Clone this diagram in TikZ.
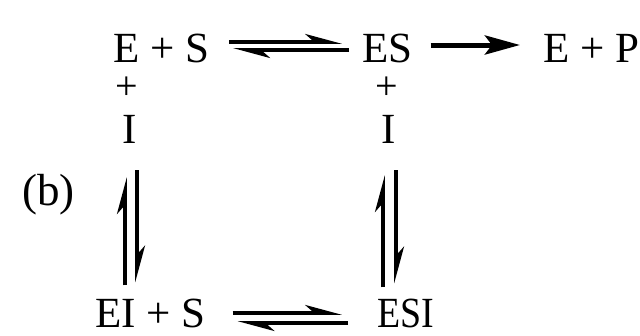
\documentclass[tikz,border=0pt]{standalone}
\usepackage{fontspec}
\setmainfont{Liberation Serif}
\usetikzlibrary{arrows.meta}
\begin{document}
\begin{tikzpicture}[x=1pt, y=-1pt,
    species/.style={inner sep=0pt, anchor=base west, font=\fontsize{43}{50}\selectfont},
    harp/.style={line width=3.6pt, -{Stealth[harpoon, length=30pt, width=16pt, inset=9pt]}},
    fwd/.style={line width=5pt, -{Stealth[length=35pt, width=19pt, inset=7pt]}}]
    \useasboundingbox (0,0) rectangle (640,335);

    % top row
    \node[species] (ES0) at (113,62) {E + S};
    \node[species] (ES) at (362,62) {ES};
    \node[species] (EP) at (543,62) {E + P};

    % inhibitor
    \node[species, anchor=center, font=\fontsize{40}{44}\selectfont] (plusL) at (127,88) {+};
    \node[species, anchor=base] (IL) at (130,143) {I};
    \node[species, anchor=center, font=\fontsize{40}{44}\selectfont] (plusR) at (387,88) {+};
    \node[species, anchor=base] (IR) at (389,143) {I};

    \node[species, font=\fontsize{45}{50}\selectfont] (lab) at (22,205) {(b)};

    % bottom row
    \node[species] (EIS) at (95,327) {EI + S};
    \node[species, xscale=0.88] (ESI) at (377,327) {ESI};

    \coordinate (EItop) at (IL.south |- EIS.north);
    \coordinate (ESItop) at (IR.south |- ESI.north);

    % equilibria
    \draw[harp, shorten <=20pt, shorten >=20pt] ([yshift=20pt]ES0.base east) -- ([yshift=20pt]ES.base west);
    \draw[harp, shorten <=13pt, shorten >=24pt] ([yshift=12pt]ES.base west) -- ([yshift=12pt]ES0.base east);
    \draw[fwd, shorten <=18pt, shorten >=23pt] ([yshift=17pt]ES.base east) -- ([yshift=17pt]EP.base west);

    \draw[harp, shorten <=13pt, shorten >=34pt] ([xshift=-5pt]EItop) -- ([xshift=-5pt]IL.south);
    \draw[harp, shorten <=27pt, shorten >=16pt] ([xshift=7pt]IL.south) -- ([xshift=7pt]EItop);
    \draw[harp, shorten <=11pt, shorten >=32pt] ([xshift=-6pt]ESItop) -- ([xshift=-6pt]IR.south);
    \draw[harp, shorten <=27pt, shorten >=15pt] ([xshift=7pt]IR.south) -- ([xshift=7pt]ESItop);

    \draw[harp, shorten <=27pt, shorten >=35pt] ([yshift=14pt]EIS.base east) -- ([yshift=14pt]ESI.base west);
    \draw[harp, shorten <=29pt, shorten >=32pt] ([yshift=4pt]ESI.base west) -- ([yshift=4pt]EIS.base east);
\end{tikzpicture}
\end{document}
